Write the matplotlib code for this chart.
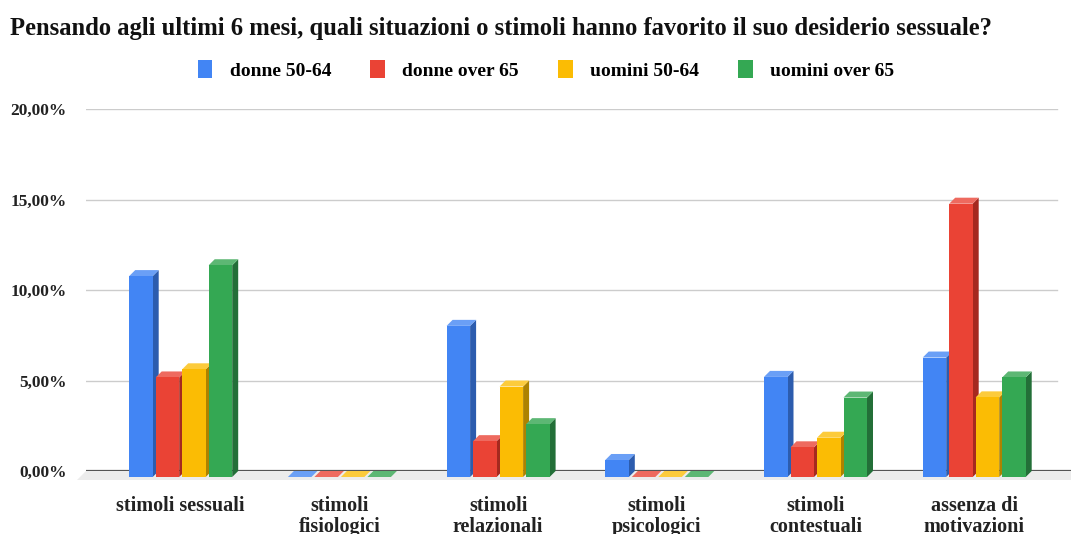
import matplotlib.pyplot as plt
from matplotlib.patches import Polygon, Patch
from matplotlib.ticker import FuncFormatter

categories = ["stimoli sessuali", "stimoli\nfisiologici", "stimoli\nrelazionali",
              "stimoli\npsicologici", "stimoli\ncontestuali", "assenza di\nmotivazioni"]
series = ["donne 50-64", "donne over 65", "uomini 50-64", "uomini over 65"]
donne_50_64 = [11.1, 0.0, 8.35, 0.94, 5.53, 6.6]
donne_over_65 = [5.5, 0.0, 1.98, 0.0, 1.64, 15.1]
uomini_50_64 = [5.95, 0.0, 5.0, 0.0, 2.17, 4.4]
uomini_over_65 = [11.7, 0.0, 2.92, 0.0, 4.39, 5.5]
yticks = [0, 5, 10, 15, 20]

values = [donne_50_64, donne_over_65, uomini_50_64, uomini_over_65]
front = ["#4285F4", "#EA4335", "#FBBC04", "#34A853"]
top = ["#6a9ff6", "#ee6a5f", "#fccb3c", "#5db774"]
side = ["#2c5cae", "#a5291f", "#ad8200", "#236f38"]

W, H = 1071, 534
fig = plt.figure(figsize=(W / 100, H / 100), dpi=100)
ax_l, ax_r, ax_b, ax_t = 86, 1071, 63, 425
ax = fig.add_axes([ax_l / W, ax_b / H, (ax_r - ax_l) / W, (ax_t - ax_b) / H])

px_x = 158.7                      # pixels per category
x0_lim = (ax_l - 180.7) / px_x
x1_lim = x0_lim + (ax_r - ax_l) / px_x
ax.set_xlim(x0_lim, x1_lim)
ax.set_ylim(0, 20)
px_y = (ax_t - ax_b) / 20

# 3d depth in data units
d = 6
dx, dy = d / px_x, d / px_y
step, width = 26.5 / px_x, 23.5 / px_x

# floor strip and axis line
fl = 9
ax.add_patch(Polygon([(x0_lim, 0), (x1_lim + 1, 0), (x1_lim + 1, -fl / px_y),
                      (x0_lim - fl / px_x, -fl / px_y)],
                     closed=True, fc="#ececec", ec="none", clip_on=False, zorder=1))
for y in yticks[1:]:
    ax.axhline(y, xmin=0, xmax=(1057 - ax_l) / (ax_r - ax_l), color="#cccccc", lw=1, zorder=0)
ax.axhline(0, color="#555555", lw=1.6, zorder=2)

z = 3
for i in range(len(categories)):
    for j, vals in enumerate(values):
        v = vals[i]
        xc = i + (j - 1.5) * step
        a, b = xc - width / 2, xc + width / 2
        ax.add_patch(Polygon([(b, -dy), (b, v - dy), (b + dx, v), (b + dx, 0)],
                             closed=True, fc=side[j], ec="none", clip_on=False, zorder=z))
        ax.add_patch(Polygon([(a, v - dy), (b, v - dy), (b + dx, v), (a + dx, v)],
                             closed=True, fc=top[j], ec="none", clip_on=False, zorder=z))
        ax.bar(xc, v, width, bottom=-dy, color=front[j], clip_on=False, zorder=z + 0.5)
        z += 1

for s in ax.spines.values():
    s.set_visible(False)

serif = "Liberation Serif"
ax.set_yticks(yticks)
ax.yaxis.set_major_formatter(FuncFormatter(lambda v, p: f"{v:.2f}%".replace(".", ",")))
ax.tick_params(axis="y", length=0, pad=14, labelsize=12.5, labelcolor="#222222")
ax.set_xticks(range(len(categories)))
ax.set_xticklabels(categories, linespacing=1.05)
ax.tick_params(axis="x", length=0, pad=18, labelsize=14.5, labelcolor="#222222")
for lab in ax.get_yticklabels() + ax.get_xticklabels():
    lab.set_fontfamily(serif)
    lab.set_fontweight("bold")

fig.text(10 / W, 1 - 28 / H,
         "Pensando agli ultimi 6 mesi, quali situazioni o stimoli hanno favorito il suo desiderio sessuale?",
         fontsize=17.7, fontweight="bold", family=serif, va="center", ha="left", color="#111111")

handles = [Patch(fc=c, ec="none") for c in front]
fig.legend(handles, series, loc="center", bbox_to_anchor=(546 / W, 1 - 70 / H), ncol=4,
           frameon=False, handlelength=0.75, handleheight=1.0, handletextpad=0.9,
           columnspacing=2.0, prop={"family": serif, "size": 14, "weight": "bold"})

fig.savefig("out.png", dpi=100)
